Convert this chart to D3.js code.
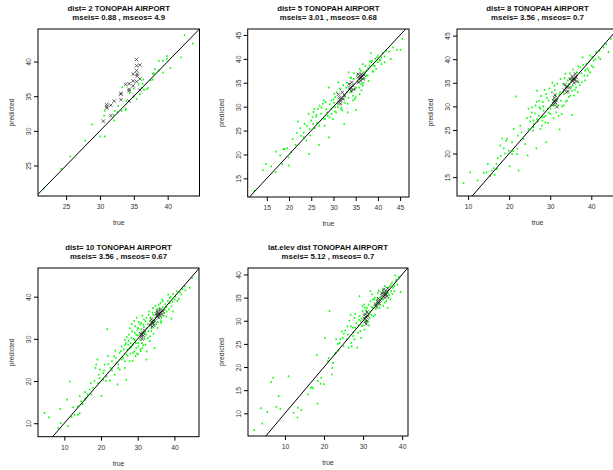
<!DOCTYPE html>
<html><head><meta charset="utf-8">
<script src="https://cdn.jsdelivr.net/npm/d3@7"></script>
<style>body{margin:0;background:#fff}svg{display:block}text{font-family:"Liberation Sans",Arial,Helvetica,sans-serif}</style>
</head><body><svg id="c" width="613" height="470"></svg>
<script>
// ---------- DATA ----------
const titles = ["dist= 2 TONOPAH AIRPORT","dist= 5 TONOPAH AIRPORT","dist= 8 TONOPAH AIRPORT","dist= 10 TONOPAH AIRPORT","lat.elev dist TONOPAH AIRPORT"];
const subtitles = ["mseis= 0.88 , mseos= 4.9","mseis= 3.01 , mseos= 0.68","mseis= 3.56 , mseos= 0.7","mseis= 3.56 , mseos= 0.67","mseis= 5.12 , mseos= 0.7"];
const xLabel = "true", yLabel = "predicted";

const xTicks1 = [25,30,35,40], yTicks1 = [25,30,35,40];
const xTicks2 = [15,20,25,30,35,40,45], yTicks2 = [15,20,25,30,35,40,45];
const xTicks3 = [10,20,30,40], yTicks3 = [15,20,25,30,35,40,45];
const xTicks4 = [10,20,30,40], yTicks4 = [10,20,30,40];
const xTicks5 = [10,20,30,40], yTicks5 = [10,15,20,25,30,35,40];

// green: other stations (true, predicted); marks: station points (x)
const green1 = [[21.7,21.7],[24.3,24.5],[25.6,26.3],[27.8,28.6],[28.8,30.9],[30.0,29.2],[30.7,29.2],[30.6,32.2],[30.7,32.9],[32.0,32.3],[32.1,31.5],[32.2,32.9],[32.7,33.6],[32.6,32.7],[33.2,32.9],[33.3,36.3],[33.8,33.0],[33.8,33.2],[33.9,34.3],[34.4,35.5],[34.9,34.9],[35.0,35.0],[35.0,36.1],[35.4,34.6],[35.7,36.7],[35.9,35.3],[36.2,36.2],[36.3,36.8],[36.4,37.4],[36.5,35.9],[36.9,36.0],[37.1,36.2],[37.5,37.3],[37.8,38.2],[37.8,37.4],[38.0,38.3],[38.1,38.9],[38.7,40.1],[38.7,38.7],[39.3,40.1],[39.3,38.4],[39.9,40.8],[39.9,40.4],[40.4,39.1],[42.0,40.6],[42.5,43.8],[43.7,42.6]];
const marks1 = [[35.4,40.3],[35.9,39.5],[35.4,39.4],[35.4,38.7],[34.9,38.2],[35.5,38.2],[35.5,37.9],[35.9,37.5],[34.9,37.2],[35.4,37.1],[34.3,36.8],[33.8,36.7],[34.9,36.5],[34.3,36.0],[34.3,35.8],[35.9,35.9],[33.1,35.4],[33.1,35.3],[32.1,34.3],[33.1,34.5],[31.6,33.7],[31.0,33.8],[31.0,33.5],[31.0,33.3],[31.6,32.2],[30.5,31.4],[34.3,34.3]];

const green2 = [[12.2,12.4],[14.1,16.7],[14.8,18.0],[17.0,16.3],[17.1,20.6],[18.0,19.8],[19.0,21.1],[19.6,21.3],[20.0,17.7],[22.0,26.9],[21.8,24.5],[23.3,24.6],[23.3,23.6],[24.5,20.1],[24.4,28.5],[24.6,25.3],[25.4,26.4],[25.5,28.9],[26.1,27.9],[26.3,26.6],[26.7,22.0],[26.5,29.5],[27.2,28.5],[27.6,30.6],[28.0,26.0],[28.1,27.4],[28.4,29.5],[29.0,34.0],[29.0,23.6],[28.7,28.1],[29.5,29.6],[29.9,27.4],[30.1,30.8],[30.4,32.0],[30.6,28.8],[31.0,29.9],[31.1,35.1],[31.4,31.3],[31.6,33.6],[32.0,29.2],[32.4,26.4],[32.5,32.3],[33.0,33.0],[33.2,30.6],[33.4,37.2],[33.6,34.7],[34.0,33.0],[34.4,31.3],[34.6,35.8],[34.8,33.7],[35.1,29.3],[35.5,35.1],[35.9,32.6],[36.3,33.4],[36.6,34.4],[36.8,37.2],[37.0,35.8],[37.4,36.5],[37.8,38.0],[37.9,35.4],[38.4,41.2],[38.5,39.3],[38.9,37.3],[39.1,38.6],[39.4,40.0],[39.6,37.9],[40.0,40.7],[40.4,39.6],[40.8,38.9],[41.1,41.2],[41.5,39.3],[41.9,41.7],[42.9,40.0],[43.4,42.4],[44.3,41.9],[45.1,41.9],[45.5,44.2],[18.7,21.1],[19.9,19.4],[22.7,23.9],[23.9,22.9],[25.0,27.1],[26.9,30.2],[29.1,27.8],[30.4,29.9],[32.3,31.6],[34.4,32.3],[35.1,34.0],[36.3,34.7],[37.4,37.5],[38.1,38.6],[38.7,39.6],[40.0,39.3],[40.8,40.3],[31.7,29.5],[32.9,34.0],[34.0,36.1],[35.9,37.9],[36.6,38.9],[34.8,31.6],[33.2,28.8],[30.2,32.7],[29.5,31.3],[27.8,31.3],[25.7,29.5],[23.5,26.4],[20.8,23.2],
  [24.0,26.0],[24.8,24.0],[25.3,27.8],[25.8,25.5],[26.2,28.3],[26.8,26.0],[27.3,29.8],[27.8,27.5],[28.2,31.0],[28.6,28.8],[29.2,30.5],[29.6,28.5],[30.0,31.5],[30.3,29.0],[30.7,33.0],[31.0,30.5],[31.4,33.8],[31.8,29.8],[32.2,34.5],[32.6,30.8],[33.0,35.0],[33.4,31.8],[33.8,36.0],[34.2,33.5],[34.6,37.0],[35.0,32.0],[35.4,36.8],[35.8,34.0],[36.2,37.5],[36.7,35.0],[37.2,38.5],[37.7,36.5],[38.2,39.5],[38.8,37.5],[39.3,38.5],[39.8,40.3],[40.5,39.8],[41.5,40.5],[42.5,41.5],[21.5,22.0],[22.5,25.5],[20.5,20.5],[16.0,17.5],[18.5,18.0]];
const marks2 = [[31.1,32.6],[31.4,31.9],[31.7,31.3],[32.1,31.6],[31.6,30.6],[32.5,32.3],[32.0,33.0],[31.3,30.9],[33.5,34.7],[33.8,34.0],[34.1,35.1],[34.6,33.6],[33.6,33.7],[34.4,34.4],[34.0,33.3],[35.5,36.1],[35.9,36.5],[36.3,36.8],[36.6,35.8],[36.1,35.4],[35.7,35.1],[36.5,36.3],[36.9,36.6],[36.0,35.9],[35.6,36.8],[36.2,36.0]];

const green3 = [[8.9,13.7],[10.5,16.0],[12.3,14.3],[13.8,15.9],[14.8,17.8],[15.4,15.3],[16.2,16.9],[16.9,17.8],[17.2,19.0],[17.8,21.7],[18.3,23.2],[18.7,21.1],[19.3,22.7],[19.9,20.6],[20.1,17.3],[20.7,22.4],[21.1,25.2],[21.7,32.1],[21.9,19.9],[22.1,23.8],[22.3,16.4],[22.7,25.9],[23.9,22.0],[24.3,27.5],[24.5,19.6],[24.7,25.2],[25.5,28.7],[25.9,27.0],[26.4,30.2],[26.6,21.1],[26.8,33.3],[27.2,28.0],[27.6,29.5],[28.0,25.9],[28.2,30.9],[28.5,27.7],[29.0,22.4],[29.0,32.6],[29.4,29.5],[29.6,31.2],[30.0,28.4],[30.4,33.0],[30.8,30.2],[31.0,34.4],[31.5,28.7],[31.8,31.6],[32.3,25.1],[32.4,33.0],[32.8,28.4],[33.1,34.7],[33.3,30.2],[33.7,36.9],[34.1,31.2],[34.5,34.7],[34.9,32.3],[35.3,28.2],[35.5,34.4],[36.1,35.8],[36.5,37.2],[36.9,35.1],[37.3,38.3],[37.9,40.4],[38.3,36.5],[38.8,39.0],[39.3,37.6],[39.7,40.8],[40.1,38.6],[40.6,39.7],[41.2,41.5],[41.8,40.4],[42.2,40.0],[43.0,42.5],[43.6,43.2],[44.2,41.5],[44.8,44.3],[27.2,31.2],[28.0,27.7],[28.4,29.1],[28.8,26.6],[29.6,28.7],[30.3,30.2],[30.7,31.4],[31.2,32.3],[32.0,30.2],[32.6,31.2],[33.4,32.6],[33.9,34.0],[34.7,35.8],[35.3,33.3],[35.8,32.3],[36.3,34.0],[36.7,33.0],[37.7,35.1],[38.5,37.6],[39.1,36.5],[39.7,37.2],[40.5,38.3],[24.7,29.5],[25.1,26.8],[25.9,25.6],[27.6,25.2],[25.8,24.9],[23.5,23.1],[19.5,23.1],[20.7,19.9],[17.0,16.7],[15.8,16.4],[26.8,27.3],
  [25.2,27.8],[25.6,29.8],[26.0,26.2],[26.3,28.5],[26.7,31.0],[27.0,26.8],[27.4,29.8],[27.8,32.2],[28.1,27.0],[28.3,30.0],[28.6,33.5],[28.9,28.0],[29.2,31.8],[29.5,26.5],[29.8,33.8],[30.1,29.5],[30.5,35.0],[30.8,27.5],[31.1,33.5],[31.4,30.5],[31.7,34.8],[32.0,28.0],[32.2,32.5],[32.5,35.8],[32.9,30.0],[33.2,33.0],[33.5,36.0],[33.8,31.0],[34.2,35.5],[34.5,32.0],[34.8,37.0],[35.1,34.0],[35.6,37.8],[36.0,33.5],[36.4,36.5],[36.8,38.5],[37.2,34.5],[37.6,37.0],[38.0,38.8],[38.5,35.5],[39.0,38.0],[39.5,39.5],[40.2,40.5],[41.0,40.0],[42.0,41.8],[23.0,24.5],[22.0,21.0],[21.0,20.5],[19.0,20.0],[18.0,19.5],[16.5,15.5],[14.5,16.0]];
const marks3 = [[31.0,31.8],[31.3,30.8],[30.8,30.4],[31.5,31.2],[31.2,32.4],[31.6,29.9],[30.9,31.1],[33.4,33.5],[33.9,34.2],[34.3,33.2],[33.6,34.6],[34.6,34.0],[34.0,33.0],[35.2,35.4],[35.6,36.0],[36.0,35.6],[35.4,36.4],[36.3,36.2],[35.8,35.0],[36.5,35.3],[34.9,35.8],[35.5,35.7],[36.1,36.9]];

const green4 = [[4.6,12.4],[5.8,11.4],[8.3,8.9],[8.9,13.4],[10.8,15.6],[11.5,19.9],[11.0,9.3],[12.4,13.8],[12.8,12.0],[14.2,12.4],[14.2,16.4],[14.6,15.2],[15.6,17.4],[16.3,16.8],[16.9,18.0],[17.2,19.5],[17.8,18.4],[18.5,23.1],[19.0,25.1],[19.4,21.5],[19.7,22.7],[20.1,16.5],[20.6,20.3],[21.0,23.9],[21.5,21.1],[21.7,32.3],[21.9,25.9],[22.4,20.1],[22.6,23.1],[23.0,24.7],[23.6,25.9],[23.9,27.2],[24.5,19.2],[24.7,23.9],[25.1,26.7],[25.6,28.2],[26.0,25.5],[26.5,29.8],[26.9,20.3],[27.2,27.4],[27.6,31.0],[27.8,24.7],[28.1,29.0],[28.5,31.8],[28.7,26.7],[29.0,34.2],[29.2,29.8],[29.6,27.8],[29.9,32.2],[30.1,29.0],[30.6,33.4],[30.8,27.1],[31.2,31.0],[31.7,34.6],[32.1,28.6],[32.4,25.1],[32.6,32.6],[33.0,35.7],[33.4,30.6],[33.7,33.8],[34.2,37.3],[34.6,27.8],[34.8,35.0],[35.4,32.6],[35.7,38.1],[36.3,34.2],[36.6,39.3],[37.2,36.1],[37.8,37.5],[38.3,40.5],[38.7,38.5],[39.2,34.8],[39.6,40.6],[40.1,39.3],[40.6,41.3],[41.2,39.5],[41.9,40.5],[42.8,42.5],[44.2,42.1],[44.8,44.4],[28.3,30.2],[28.7,28.6],[29.2,31.4],[29.6,31.0],[30.1,32.6],[30.6,29.8],[31.0,32.2],[31.5,33.4],[31.9,31.4],[32.4,35.0],[32.8,30.2],[33.3,34.2],[33.7,31.8],[34.2,35.7],[34.6,33.0],[35.1,36.5],[35.6,35.3],[36.0,37.3],[36.5,35.0],[36.9,38.9],[37.4,36.9],[37.8,35.3],[38.7,39.7],[39.2,37.7],[39.6,36.5],[27.4,28.6],[26.9,26.3],[26.5,24.7],[25.6,25.1],[24.7,23.1],[24.2,24.3],[23.7,21.5],[26.5,23.1],[26.6,28.6],[25.4,27.1],[25.1,22.7],[27.8,27.8],[29.4,25.9],[30.1,26.3],[31.2,27.8],[19.6,20.7],[20.6,21.9],[21.3,20.0],[18.7,23.9],[17.4,16.8],[15.7,15.6],[13.7,12.0],[13.6,14.0],
  [26.2,27.5],[26.8,29.0],[27.0,30.5],[27.3,26.0],[27.5,29.5],[27.9,32.5],[28.0,26.5],[28.2,28.0],[28.4,33.5],[28.6,24.8],[28.9,30.0],[29.1,27.0],[29.3,33.0],[29.5,29.0],[29.7,35.0],[29.8,26.5],[30.0,30.8],[30.2,28.2],[30.3,34.0],[30.5,31.5],[30.7,27.5],[30.9,33.8],[31.1,29.0],[31.3,35.5],[31.5,28.5],[31.7,32.8],[31.9,30.0],[32.1,34.2],[32.3,31.0],[32.5,27.0],[32.7,33.5],[32.9,31.8],[33.1,36.5],[33.3,29.5],[33.5,35.0],[33.8,32.5],[34.0,36.2],[34.3,31.2],[34.5,34.5],[34.8,37.8],[35.0,33.5],[35.3,37.0],[35.5,34.0],[35.9,36.0],[36.2,38.5],[36.4,33.8],[36.8,37.5],[37.1,35.5],[37.5,38.2],[37.9,36.5],[38.2,39.0],[38.5,37.0],[39.0,40.0],[39.5,38.8],[40.3,40.0],[40.8,39.0],[41.5,41.0],[42.2,41.8],[43.0,41.5],[23.0,22.5],[24.0,25.5],[22.0,24.0],[20.8,22.5],[19.2,19.5],[18.2,20.0],[16.0,16.0],[15.0,14.5],[12.0,11.5],[9.0,10.0]];
const marks4 = [[31.0,30.5],[31.4,31.5],[31.8,32.0],[31.2,29.9],[31.6,30.8],[30.8,31.2],[31.1,31.0],[33.4,33.2],[33.9,34.0],[34.3,33.6],[33.7,34.6],[34.6,34.2],[34.0,32.9],[34.1,33.7],[35.2,35.4],[35.6,36.1],[36.0,35.6],[35.4,36.6],[36.3,36.3],[35.8,35.0],[36.6,35.8],[35.0,35.9],[36.9,36.6],[35.5,35.8],[36.1,36.9]];

const green5 = [[2.1,6.4],[3.8,11.1],[4.2,7.8],[5.5,10.3],[6.5,16.8],[7.0,17.7],[7.8,11.4],[8.4,13.7],[8.8,11.0],[10.9,18.0],[12.2,10.1],[13.2,9.1],[13.3,11.2],[14.2,10.7],[15.9,14.1],[16.6,15.5],[16.9,15.7],[17.2,15.4],[18.2,22.6],[18.3,12.1],[18.4,17.0],[19.1,16.4],[19.3,17.7],[20.0,16.3],[20.2,26.3],[21.0,21.3],[21.2,21.9],[21.4,32.1],[22.0,18.4],[22.1,19.8],[22.3,20.9],[22.9,22.9],[23.1,26.0],[23.6,25.0],[23.7,23.6],[24.0,25.2],[24.6,27.7],[25.1,27.2],[25.4,27.9],[25.9,26.0],[26.3,24.2],[26.5,30.0],[26.9,28.8],[27.1,24.5],[27.4,26.7],[27.8,30.6],[28.0,28.5],[28.5,24.2],[28.7,27.4],[29.1,35.3],[29.1,31.0],[29.4,29.9],[29.5,26.3],[29.7,28.8],[29.9,32.1],[30.4,30.6],[30.5,32.8],[30.8,29.5],[31.2,31.7],[31.4,33.5],[31.7,30.6],[31.9,34.2],[32.3,35.7],[32.5,32.8],[32.8,34.6],[33.1,31.3],[33.4,33.5],[33.8,36.0],[34.2,32.8],[34.5,34.9],[35.1,36.7],[35.5,33.9],[35.9,35.7],[36.3,32.8],[36.8,37.4],[37.0,34.6],[37.4,38.2],[38.0,36.4],[38.2,39.8],[38.5,38.9],[39.6,36.2],[31.9,36.4],[30.2,31.3],[30.8,32.2],[31.2,29.9],[32.1,31.3],[32.9,33.5],[33.6,34.2],[34.2,33.9],[34.6,35.3],[35.1,34.6],[35.7,36.4],[36.2,37.1],[36.5,34.9],[37.2,36.4],[37.7,37.1],[27.4,28.5],[28.3,29.5],[27.0,25.2],[26.1,27.0],[24.8,26.3],[26.0,28.8],[26.8,31.3],[30.4,28.1],[29.9,33.1],[32.5,34.6],
  [27.5,27.5],[28.0,31.5],[28.8,29.0],[29.3,27.8],[29.6,30.5],[30.0,29.0],[30.3,33.5],[30.7,30.0],[31.0,32.8],[31.5,29.0],[31.8,32.0],[32.2,33.0],[32.6,31.0],[33.0,35.0],[33.3,32.5],[33.7,34.8],[34.0,36.5],[34.4,33.5],[34.8,36.0],[35.2,33.2],[35.5,37.5],[35.9,34.2],[36.3,36.0],[36.7,35.5],[37.1,37.8],[37.5,35.8],[38.0,37.5],[38.4,38.5],[38.8,37.8],[39.1,39.5],[25.0,24.5],[24.2,26.0],[23.0,23.0],[27.8,26.0],[29.0,30.2]];
const marks5 = [[30.3,30.6],[30.6,31.4],[31.0,30.0],[30.8,29.3],[31.3,31.0],[30.5,29.8],[31.0,31.9],[30.8,30.8],[33.2,33.6],[33.7,34.2],[34.1,33.7],[33.9,34.8],[34.4,34.4],[33.5,33.0],[35.0,35.4],[35.4,36.1],[35.8,35.6],[35.3,36.8],[36.0,36.4],[35.6,35.0],[36.3,37.0],[34.8,36.0],[35.5,35.8],[36.1,35.3]];

// ---------- LAYOUT ----------
const panels = [
  {l:38,   t:29,  r:199.5, b:196,   xd:[20.85,44.7], yd:[20.6,44.7], xt:xTicks1, yt:yTicks1, g:green1, m:marks1},
  {l:247.7,t:29,  r:409,   b:197,   xd:[10.7,47.0],  yd:[11.1,46.25],xt:xTicks2, yt:yTicks2, g:green2, m:marks2},
  {l:457,  t:29,  r:618,   b:196,   xd:[7.3,46.5],   yd:[11.0,46.4], xt:xTicks3, yt:yTicks3, g:green3, m:marks3},
  {l:38,   t:268, r:199,   b:436.7, xd:[2.83,46.7],  yd:[6.8,46.8],  xt:xTicks4, yt:yTicks4, g:green4, m:marks4},
  {l:248,  t:268, r:408,   b:436,   xd:[0.54,41.5],  yd:[5.1,41.4],  xt:xTicks5, yt:yTicks5, g:green5, m:marks5}
];

const svg = d3.select("#c");
svg.append("rect").attr("width",613).attr("height",470).attr("fill","#fff");

panels.forEach((p,i)=>{
  const x = d3.scaleLinear().domain(p.xd).range([p.l,p.r]);
  const y = d3.scaleLinear().domain(p.yd).range([p.b,p.t]);
  const g = svg.append("g");
  const cid = "clip"+i;
  g.append("clipPath").attr("id",cid).append("rect")
    .attr("x",p.l).attr("y",p.t).attr("width",p.r-p.l).attr("height",p.b-p.t);
  const plot = g.append("g").attr("clip-path",`url(#${cid})`);

  plot.selectAll("rect.pt").data(p.g).join("rect").attr("class","pt")
    .attr("x",d=>x(d[0])-0.75).attr("y",d=>y(d[1])-0.9)
    .attr("width",1.5).attr("height",1.8).attr("fill","#00ff00");

  const s = 1.7;
  plot.selectAll("path.mk").data(p.m).join("path").attr("class","mk")
    .attr("d",d=>{const cx=x(d[0]),cy=y(d[1]);return `M${cx-s},${cy-s}L${cx+s},${cy+s}M${cx-s},${cy+s}L${cx+s},${cy-s}`;})
    .attr("stroke","#333").attr("stroke-width",0.75).attr("fill","none");

  const lo = Math.min(p.xd[0],p.yd[0]), hi = Math.max(p.xd[1],p.yd[1]);
  plot.append("line").attr("x1",x(lo)).attr("y1",y(lo)).attr("x2",x(hi)).attr("y2",y(hi))
    .attr("stroke","#000").attr("stroke-width",1);

  // axes
  const xa = g.append("g").attr("transform",`translate(0,${p.b})`)
    .call(d3.axisBottom(x).tickValues(p.xt).tickSize(4).tickPadding(4).tickFormat(d3.format("d")));
  xa.select(".domain").remove();
  xa.selectAll("line").attr("stroke","#000");
  xa.selectAll("text").attr("font-size",6.8).attr("fill","#333").attr("font-family","Liberation Sans, Arial, sans-serif");

  const ya = g.append("g").attr("transform",`translate(${p.l},0)`)
    .call(d3.axisLeft(y).tickValues(p.yt).tickSize(4).tickFormat(d3.format("d")));
  ya.select(".domain").remove();
  ya.selectAll("line").attr("stroke","#000");
  ya.selectAll("text").attr("font-size",6.8).attr("fill","#333").attr("font-family","Liberation Sans, Arial, sans-serif")
    .attr("x",-9).attr("y",0).attr("dy","0.32em").attr("text-anchor","middle")
    .attr("transform","rotate(-90,-9,0)");

  g.append("rect").attr("x",p.l).attr("y",p.t).attr("width",p.r-p.l).attr("height",p.b-p.t)
    .attr("fill","none").attr("stroke","#000").attr("stroke-width",1);

  const cx = (p.l+Math.min(p.r,618))/2;
  g.append("text").attr("x",cx).attr("y",p.t-18).attr("text-anchor","middle")
    .attr("font-size",7.8).attr("font-weight","bold").attr("fill","#111").text(titles[i]);
  g.append("text").attr("x",cx).attr("y",p.t-9.5).attr("text-anchor","middle")
    .attr("font-size",7.8).attr("font-weight","bold").attr("fill","#111").text(subtitles[i]);
  g.append("text").attr("x",cx).attr("y",p.b+29).attr("text-anchor","middle")
    .attr("font-size",6.8).attr("fill","#333").text(xLabel);
  const cy = (p.t+p.b)/2;
  g.append("text").attr("transform",`translate(${p.l-26},${cy}) rotate(-90)`).attr("text-anchor","middle")
    .attr("dy","0.32em").attr("font-size",6.8).attr("fill","#333").text(yLabel);
});
</script></body></html>
